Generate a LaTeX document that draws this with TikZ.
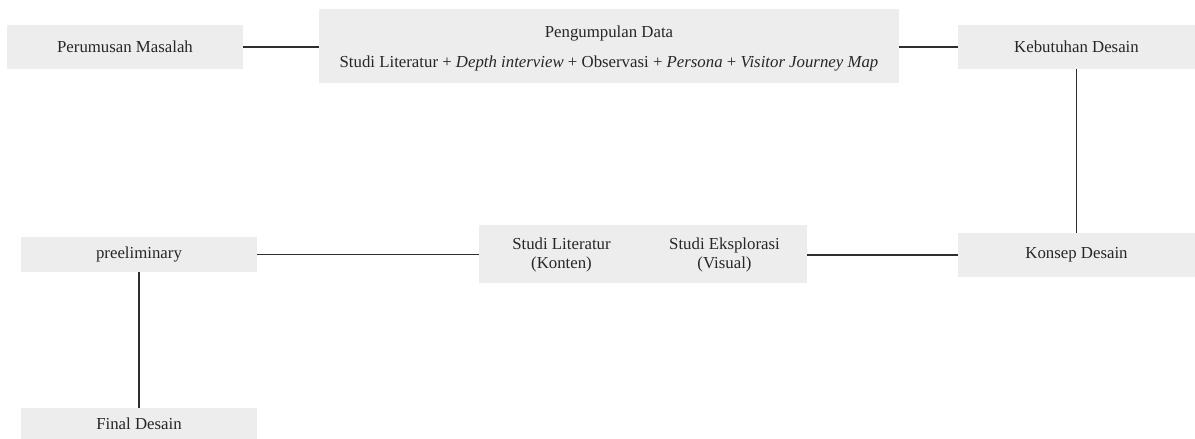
\documentclass[tikz,border=0pt]{standalone}
\usepackage{fontspec}
\setmainfont{Liberation Serif}
\definecolor{boxfill}{HTML}{EDEDED}
\definecolor{linkgray}{HTML}{2E2E2E}
\begin{document}
\begin{tikzpicture}[x=1pt,y=-1pt,
  stage/.style={fill=boxfill, draw=none, inner sep=0pt, align=center,
    font=\fontsize{16.8}{26}\selectfont, text=black!85},
  caption/.style={inner sep=0pt, anchor=base,
    font=\fontsize{16.8}{26}\selectfont, text=black!85},
  link/.style={draw=linkgray, line width=1.4pt}]
\useasboundingbox (0,0) rectangle (1195,439);

% top row
\node[stage, minimum width=236pt, minimum height=44pt] (rumus) at (125,47) {Perumusan Masalah};
\node[stage, minimum width=580pt, minimum height=74pt] (kumpul) at (609,46) {};
\node[caption] (kumpul title) at (609,37.5) {Pengumpulan Data};
\node[caption] (kumpul methods) at (609,67.5)
  {Studi Literatur + \textit{Depth interview} + Observasi + \textit{Persona} + \textit{Visitor Journey Map}};
\node[stage, minimum width=237pt, minimum height=44pt] (butuh) at (1076.5,47) {Kebutuhan Desain};

% middle row
\node[stage, minimum width=237pt, minimum height=44pt] (konsep) at (1076.5,255) {Konsep Desain};
\node[stage, minimum width=328pt, minimum height=58pt] (studi) at (643,254)
  {\begin{tabular}{@{}c@{}c@{}}
   \makebox[163pt]{Studi Literatur} & \makebox[163pt]{Studi Eksplorasi}\\[-7pt]
   \makebox[163pt]{(Konten)} & \makebox[163pt]{(Visual)}
   \end{tabular}};
\node[stage, minimum width=236pt, minimum height=35pt] (prelim) at (139,254.5) {preeliminary};

% bottom
\node[stage, minimum width=236pt, minimum height=31pt] (final) at (139,423.5) {Final Desain};

% connectors
\draw[link] (rumus.east) -- (rumus.east -| kumpul.west);
\draw[link] (kumpul.east |- butuh.west) -- (butuh.west);
\draw[link] (butuh.south) -- (konsep.north);
\draw[link] (konsep.west) -- (konsep.west -| studi.east);
\draw[link] (studi.west |- prelim.east) -- (prelim.east);
\draw[link] (prelim.south) -- (final.north);
\end{tikzpicture}
\end{document}
